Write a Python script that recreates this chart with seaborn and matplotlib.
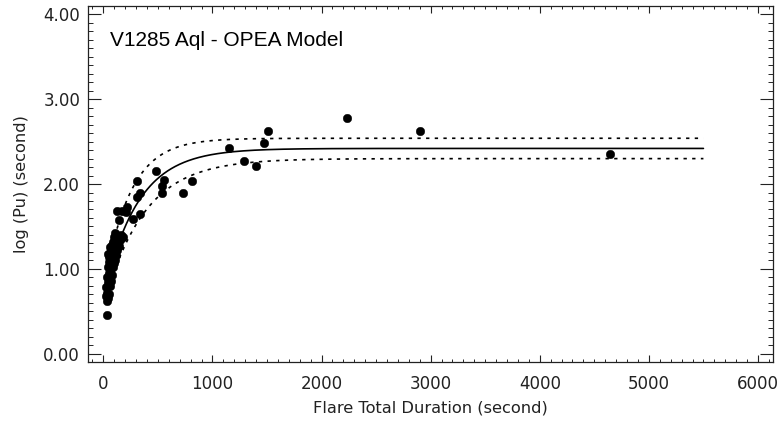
import numpy as np
import pandas as pd
import matplotlib
matplotlib.use("Agg")
import matplotlib.pyplot as plt
import seaborn as sns
from matplotlib.ticker import MultipleLocator, FormatStrFormatter

# Observed flares: total duration (s) and log of equivalent duration P_u (s)
duration = [
    35, 30, 45, 22, 38, 50, 28, 60, 42, 55, 35, 70, 48, 62, 80, 40, 75, 55,
    90, 100, 65, 85, 110, 45, 70, 95, 120, 60, 80, 105, 130, 50, 90, 115,
    140, 100, 125, 150, 160, 110, 170, 178,
    123, 169, 214, 208, 337, 144, 270,
    306, 337, 312, 483, 557, 541, 541, 734, 811,
    1156, 1294, 1401, 1474, 1508, 2233, 2906, 4640,
]
log_pu = [
    0.46, 0.62, 0.65, 0.68, 0.72, 0.70, 0.78, 0.80, 0.84, 0.88, 0.90, 0.86,
    0.95, 0.98, 0.93, 1.02, 1.05, 1.08, 1.02, 1.07, 1.12, 1.15, 1.10, 1.18,
    1.22, 1.20, 1.16, 1.26, 1.28, 1.25, 1.22, 1.14, 1.32, 1.30, 1.27, 1.38,
    1.36, 1.34, 1.40, 1.42, 1.38, 1.38,
    1.68, 1.68, 1.73, 1.67, 1.65, 1.58, 1.59,
    2.03, 1.90, 1.85, 2.15, 2.05, 1.98, 1.90, 1.90, 2.04,
    2.43, 2.27, 2.21, 2.49, 2.62, 2.78, 2.62, 2.36,
]

# One-phase exponential association fit and its confidence band:
# y = plateau - span * exp(-k * x)
fit_plateau, fit_span, fit_k = 2.42, 1.75, 0.0032
upper_plateau, upper_span, upper_k = 2.54, 1.81, 0.0042
lower_plateau, lower_span, lower_k = 2.30, 1.75, 0.0027
curve_start, curve_end = 20, 5500

x_fit = np.linspace(curve_start, curve_end, 800)


def opea(x, plateau, span, k):
    return plateau - span * np.exp(-k * x)


points = pd.DataFrame({"duration": duration, "log_pu": log_pu})
curves = pd.DataFrame({
    "x": np.concatenate([x_fit] * 3),
    "y": np.concatenate([
        opea(x_fit, fit_plateau, fit_span, fit_k),
        opea(x_fit, upper_plateau, upper_span, upper_k),
        opea(x_fit, lower_plateau, lower_span, lower_k),
    ]),
    "curve": ["fit"] * len(x_fit) + ["upper"] * len(x_fit) + ["lower"] * len(x_fit),
})

sns.set_theme(style="ticks")
plt.rcParams["font.family"] = ["DejaVu Sans"]

fig = plt.figure(figsize=(7.81, 4.21), dpi=100)
ax = fig.add_axes([0.1123, 0.140, 0.8775, 0.8457])

sns.lineplot(data=curves, x="x", y="y", style="curve",
             dashes={"fit": "", "upper": (2.0, 3.2), "lower": (2.0, 3.2)},
             color="black", linewidth=1.2, legend=False, sort=False,
             estimator=None, ax=ax)
sns.scatterplot(data=points, x="duration", y="log_pu", color="black",
                s=38, edgecolor="black", linewidth=0.3, ax=ax, zorder=3)

ax.set_xlim(-143, 6138)
ax.set_ylim(-0.1, 4.1)
ax.xaxis.set_major_locator(MultipleLocator(1000))
ax.xaxis.set_minor_locator(MultipleLocator(100))
ax.yaxis.set_major_locator(MultipleLocator(1.0))
ax.yaxis.set_minor_locator(MultipleLocator(0.1))
ax.yaxis.set_major_formatter(FormatStrFormatter("%.2f"))

ax.tick_params(axis="x", which="major", direction="in", length=5.0, width=0.8,
               top=True, bottom=True, pad=9.5, labelsize=12, colors="#222222")
ax.tick_params(axis="x", which="minor", direction="in", length=2.5, width=0.7,
               top=True, bottom=True)
ax.tick_params(axis="y", which="major", direction="in", length=9.5, width=0.8,
               left=True, right=True, pad=5.5, labelsize=12, colors="#222222")
ax.tick_params(axis="y", which="minor", direction="in", length=3.8, width=0.7,
               left=True, right=True)

for spine in ax.spines.values():
    spine.set_visible(True)
    spine.set_linewidth(0.9)
    spine.set_color("#222222")

ax.set_xlabel("Flare Total Duration (second)", fontsize=11.7, color="#222222",
              labelpad=5)
ax.set_ylabel("log (Pu) (second)", fontsize=11.7, color="#222222", labelpad=10)

ax.text(0.0326, 0.904, "V1285 Aql - OPEA Model", transform=ax.transAxes,
        fontsize=15, family="Liberation Sans", color="black",
        ha="left", va="center")

fig.savefig("out.png", dpi=100, facecolor="white")
